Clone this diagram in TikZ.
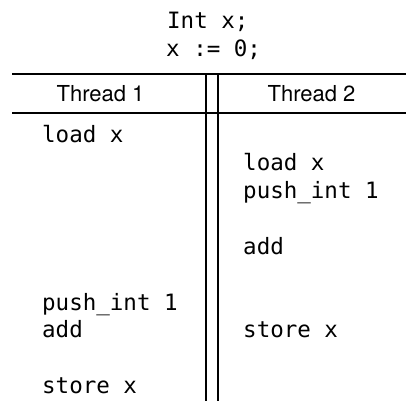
\documentclass[tikz,border=0pt]{standalone}
\usepackage{fontspec}
\newfontfamily\codefont{DejaVu Sans Mono}
\newfontfamily\headfont{TeX Gyre Heros}
\usepackage{tikz}

\tikzset{
  code/.style={anchor=base west, inner sep=0pt, font=\codefont\fontsize{22.5}{28}\selectfont},
  thread/.style={anchor=base, inner sep=0pt, font=\headfont\fontsize{22}{26}\selectfont},
  rule/.style={line width=1.6pt}
}

\begin{document}
\begin{tikzpicture}[x=1pt,y=-1pt]
    \useasboundingbox (0,0) rectangle (406,401);

    \node [code] (decl) at (167,29) {Int x;};
    \node [code] (init) at (166,57) {x := 0;};

    \draw [rule] (12,74) -- (406,74);
    \draw [rule] (12,113) -- (406,113);
    \draw [rule] (206,74) -- (206,401);
    \draw [rule] (218,74) -- (218,401);

    \node [thread] (threadA) at (100.5,102) {Thread 1};
    \node [thread] (threadB) at (311.5,102) {Thread 2};

    \node [code] (loadA) at (42,142) {load x};
    \node [code] (pushA) at (42,310) {push\_int 1};
    \node [code] (addA) at (42,337) {add};
    \node [code] (storeA) at (42,393) {store x};

    \node [code] (loadB) at (243,170) {load x};
    \node [code] (pushB) at (243,198) {push\_int 1};
    \node [code] (addB) at (243,254) {add};
    \node [code] (storeB) at (243,337) {store x};
\end{tikzpicture}
\end{document}
